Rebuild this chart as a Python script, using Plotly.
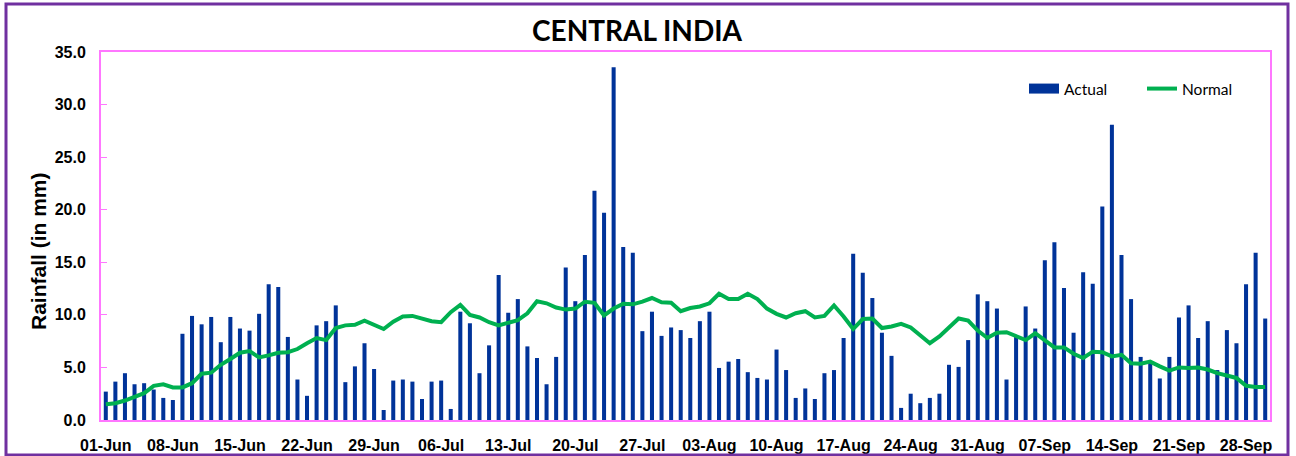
import pandas as pd
import plotly.graph_objects as go

# ---- data ----
dates = [d.strftime("%d-%b") for d in pd.date_range("2021-06-01", "2021-09-30", freq="D")]

actual_jun = [2.7, 3.65, 4.45, 3.4, 3.5, 2.9, 2.1, 1.9, 8.2, 9.9,
              9.1, 9.8, 7.4, 9.8, 8.7, 8.5, 10.1, 12.9, 12.65, 7.9,
              3.85, 2.3, 9.0, 9.4, 10.9, 3.6, 5.1, 7.3, 4.85, 0.95]
actual_jul = [3.75, 3.85, 3.65, 2.0, 3.65, 3.75, 1.05, 10.3, 9.2, 4.45,
              7.1, 13.8, 10.2, 11.5, 7.0, 5.9, 3.4, 6.0, 14.5, 11.3,
              15.7, 21.8, 19.7, 33.55, 16.45, 15.9, 8.45, 10.3, 8.0, 8.8, 8.55]
actual_aug = [7.8, 9.4, 10.3, 4.95, 5.55, 5.8, 4.55, 4.0, 3.85, 6.7,
              4.75, 2.1, 3.0, 2.0, 4.45, 4.75, 7.8, 15.8, 14.0, 11.6,
              8.3, 6.1, 1.15, 2.5, 1.6, 2.1, 2.5, 5.25, 5.05, 7.6, 11.95]
actual_sep = [11.3, 10.6, 3.85, 8.0, 10.8, 8.7, 15.2, 16.9, 12.55, 8.3,
              14.05, 12.95, 20.3, 28.07, 15.7, 11.5, 6.0, 5.5, 3.95, 6.0,
              9.75, 10.9, 7.8, 9.4, 4.75, 8.55, 7.3, 12.9, 15.9, 9.65]

normal_jun = [1.5, 1.6, 1.85, 2.2, 2.55, 3.25, 3.4, 3.1, 3.1, 3.5,
              4.4, 4.5, 5.25, 5.8, 6.4, 6.55, 5.95, 6.15, 6.4, 6.45,
              6.75, 7.3, 7.8, 7.6, 8.75, 9.0, 9.05, 9.45, 9.0, 8.65]
normal_jul = [9.35, 9.85, 9.9, 9.6, 9.4, 9.3, 10.25, 10.95, 10.0, 9.75,
              9.3, 9.0, 9.3, 9.5, 10.15, 11.3, 11.1, 10.7, 10.5, 10.6,
              11.25, 11.15, 9.95, 10.6, 11.05, 11.0, 11.25, 11.6, 11.2, 11.15, 10.35]
normal_aug = [10.65, 10.8, 11.1, 12.0, 11.5, 11.5, 12.0, 11.5, 10.6, 10.1,
              9.75, 10.15, 10.35, 9.75, 9.9, 10.9, 9.85, 8.65, 9.6, 9.65,
              8.75, 8.9, 9.15, 8.8, 8.1, 7.3, 7.95, 8.75, 9.65, 9.45, 8.5]
normal_sep = [7.8, 8.3, 8.35, 7.95, 7.6, 8.25, 7.55, 6.9, 6.9, 6.3,
              5.9, 6.5, 6.45, 6.05, 6.2, 5.4, 5.35, 5.55, 5.1, 4.7,
              5.0, 4.95, 5.0, 4.8, 4.45, 4.2, 4.0, 3.25, 3.15, 3.15]

actual = actual_jun + actual_jul + actual_aug + actual_sep
normal = normal_jun + normal_jul + normal_aug + normal_sep
tick_labels = dates[::7]
y_ticks = [0, 5, 10, 15, 20, 25, 30, 35]

# ---- figure ----
W, H = 1296, 456
L, R, T, B = 101, 26, 52, 36
pw, ph = W - L - R, H - T - B

def px_x(px):
    return (px - L) / pw

def px_y(py):
    return (H - B - py) / ph

BLUE = "#003399"
GREEN = "#00B050"

fig = go.Figure()
fig.add_trace(go.Bar(x=dates, y=actual, name="Actual", legendgroup="a", showlegend=False,
                     marker=dict(color=BLUE, line=dict(width=0))))
# legend entry drawn as a wide block like the original
fig.add_trace(go.Scatter(x=[None], y=[None], name="Actual", legendgroup="a", mode="lines",
                         line=dict(color=BLUE, width=11)))
fig.add_trace(go.Scatter(x=dates, y=normal, name="Normal", mode="lines",
                         line=dict(color=GREEN, width=4)))

pink = "#FF77FF"
fig.update_layout(
    width=W, height=H,
    margin=dict(l=L, r=R, t=T, b=B, autoexpand=False),
    paper_bgcolor="white", plot_bgcolor="white",
    bargap=0.58,
    showlegend=True,
    legend=dict(orientation="h", x=px_x(1024), y=px_y(72), xanchor="left", yanchor="top",
                font=dict(family="Lato", size=15.5, color="black"),
                bgcolor="rgba(0,0,0,0)", entrywidth=73),
    title=dict(text="<b>CENTRAL INDIA</b>", x=637 / W, y=1 - 31 / H, xref="container",
               yref="container", xanchor="center", yanchor="middle",
               font=dict(family="Lato", size=28, color="black")),
    xaxis=dict(type="category", range=[-0.5, len(dates) - 0.5], automargin=False,
               tickvals=tick_labels, ticktext=tick_labels, ticks="",
               showline=True, linecolor=pink, linewidth=2, mirror=True,
               showgrid=False, zeroline=False, ticklabelstandoff=10,
               tickfont=dict(family="Liberation Sans", size=16, color="black", weight="bold")),
    yaxis=dict(range=[0, 35], tickvals=y_ticks, tickformat=".1f", automargin=False,
               ticks="inside", ticklen=6, tickcolor=pink, tickwidth=1,
               showline=True, linecolor=pink, linewidth=2, mirror=True,
               showgrid=False, zeroline=False, ticklabelstandoff=10,
               tickfont=dict(family="Liberation Sans", size=16, color="black", weight="bold")),
)

fig.add_annotation(text="<b>Rainfall (in mm)</b>", textangle=-90,
                   x=px_x(38), y=px_y(251), xref="paper", yref="paper",
                   showarrow=False, xanchor="center", yanchor="middle",
                   font=dict(family="Liberation Sans", size=21, color="black"))

fig.add_shape(type="rect", xref="paper", yref="paper",
              x0=px_x(6), x1=px_x(1288), y0=px_y(455), y1=px_y(4),
              line=dict(color="#7030A0", width=3), layer="above")

fig.write_html("out.html", config={"displayModeBar": False},
               post_script="document.body.style.margin='0';")
